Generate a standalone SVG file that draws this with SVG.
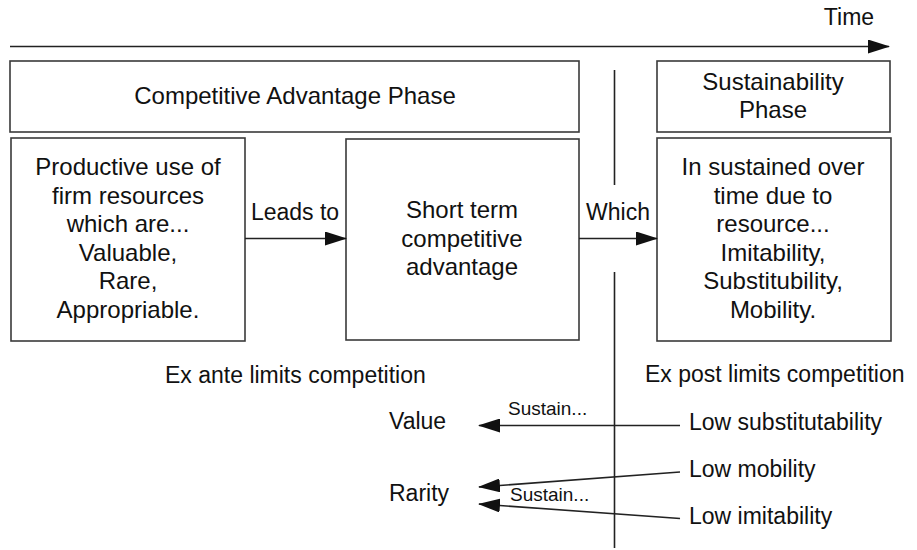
<svg xmlns="http://www.w3.org/2000/svg" width="917" height="550" viewBox="0 0 917 550">
  <style>
    .box { fill: #ffffff; stroke: #3a3a3a; stroke-width: 1.6; }
    .ln { fill: none; stroke: #222222; stroke-width: 1.6; }
    .t { font-family: "Liberation Sans", Arial, sans-serif; font-size: 23px; fill: #111111; }
    .b { font-size: 24px; }
    .c { text-anchor: middle; }
    .s { font-family: "Liberation Sans", Arial, sans-serif; font-size: 19px; fill: #111111; }
  </style>
  <defs>
    <marker id="ah" markerWidth="22" markerHeight="14" refX="21" refY="7" orient="auto" markerUnits="userSpaceOnUse">
      <path d="M0,0 L22,7 L0,14 z" fill="#111111"/>
    </marker>
  </defs>
  <rect width="917" height="550" fill="#ffffff"/>

  <!-- time axis -->
  <g id="time-axis">
    <line class="ln" x1="10" y1="46.5" x2="889" y2="46.5" marker-end="url(#ah)"/>
    <text class="t c" x="849" y="25">Time</text>
  </g>

  <!-- phase divider -->
  <g id="divider">
    <line class="ln" x1="614.5" y1="70" x2="614.5" y2="185"/>
    <line class="ln" x1="614.5" y1="272" x2="614.5" y2="548"/>
  </g>

  <g id="competitive-phase">
    <rect class="box" x="10" y="61" width="569" height="71"/>
    <text class="t b c" x="295" y="104">Competitive Advantage Phase</text>
  </g>

  <g id="sustainability-phase">
    <rect class="box" x="657" y="61" width="233" height="71"/>
    <text class="t b c" x="773" y="90">Sustainability</text>
    <text class="t b c" x="773" y="118">Phase</text>
  </g>

  <g id="resources">
    <rect class="box" x="11" y="138" width="234" height="203"/>
    <text class="t b c" x="128" y="175">Productive use of</text>
    <text class="t b c" x="128" y="203.5">firm resources</text>
    <text class="t b c" x="128" y="232">which are...</text>
    <text class="t b c" x="128" y="260.5">Valuable,</text>
    <text class="t b c" x="128" y="289">Rare,</text>
    <text class="t b c" x="128" y="317.5">Appropriable.</text>
  </g>

  <g id="short-term">
    <rect class="box" x="346" y="139" width="233" height="201"/>
    <text class="t b c" x="462" y="218">Short term</text>
    <text class="t b c" x="462" y="246.5">competitive</text>
    <text class="t b c" x="462" y="275">advantage</text>
  </g>

  <g id="sustained">
    <rect class="box" x="657" y="138" width="234" height="203"/>
    <text class="t b c" x="773" y="175">In sustained over</text>
    <text class="t b c" x="773" y="203.5">time due to</text>
    <text class="t b c" x="773" y="232">resource...</text>
    <text class="t b c" x="773" y="260.5">Imitability,</text>
    <text class="t b c" x="773" y="289">Substitubility,</text>
    <text class="t b c" x="773" y="317.5">Mobility.</text>
  </g>

  <g id="ex-ante">
    <text class="t" x="165" y="383">Ex ante limits competition</text>
  </g>
  <g id="ex-post">
    <text class="t" x="645" y="382">Ex post limits competition</text>
  </g>

  <g id="value"><text class="t" x="389" y="429">Value</text></g>
  <g id="rarity"><text class="t" x="389" y="501">Rarity</text></g>
  <g id="low-substitutability"><text class="t" x="689" y="430">Low substitutability</text></g>
  <g id="low-mobility"><text class="t" x="689" y="477">Low mobility</text></g>
  <g id="low-imitability"><text class="t" x="689" y="524">Low imitability</text></g>

  <g id="connectors">
    <line class="ln" x1="245" y1="238.5" x2="346" y2="238.5" marker-end="url(#ah)"/>
    <text class="t c" x="295" y="220">Leads to</text>
    <line class="ln" x1="579" y1="238.5" x2="657" y2="238.5" marker-end="url(#ah)"/>
    <text class="t c" x="618" y="220">Which</text>

    <line class="ln" x1="680" y1="425.5" x2="479" y2="425.5" marker-end="url(#ah)"/>
    <text class="s" x="508" y="415">Sustain...</text>
    <line class="ln" x1="680" y1="472" x2="479" y2="487" marker-end="url(#ah)"/>
    <line class="ln" x1="680" y1="518.5" x2="479" y2="504" marker-end="url(#ah)"/>
    <text class="s" x="510" y="501">Sustain...</text>
  </g>
</svg>
